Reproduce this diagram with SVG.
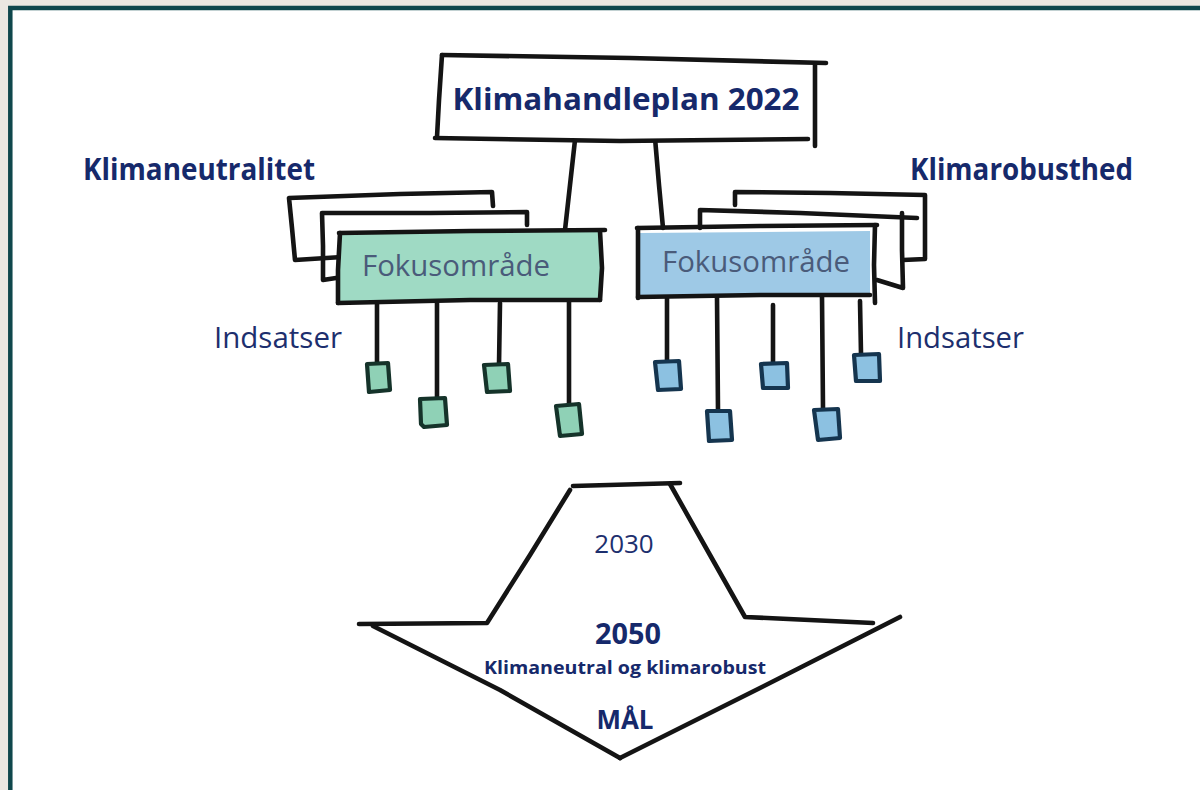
<svg xmlns="http://www.w3.org/2000/svg" width="1200" height="790" viewBox="0 0 1200 790">
<defs>
<style>
.ink{fill:none;stroke:#141414;stroke-width:4.6;stroke-linecap:round;stroke-linejoin:round}
.hd{font-family:"Open Sans","Liberation Sans",sans-serif;font-weight:700;fill:#16296b}
.rg{font-family:"Open Sans","Liberation Sans",sans-serif;font-weight:400;fill:#1d2f6e}
.fk{font-family:"Open Sans","Liberation Sans",sans-serif;font-weight:400;fill:#4a5b7a;font-size:29px}
.sqg{fill:#8fd1b6;stroke:#15332a;stroke-width:4.2;stroke-linejoin:round}
.sqb{fill:#8cc1e1;stroke:#15354f;stroke-width:4.2;stroke-linejoin:round}
</style>
</defs>
<rect x="0" y="0" width="1200" height="790" fill="#ebe7e1"/>
<rect x="10.3" y="8" width="1200" height="800" fill="#ffffff" stroke="#0f474c" stroke-width="4.5"/>

<g id="connectors">
<path class="ink" d="M575,140 L570,185 L565,230"/>
<path class="ink" d="M655,138 L659,185 L663,228"/>
<path class="ink" d="M377,303 L377,364"/>
<path class="ink" d="M437,303 L437,399"/>
<path class="ink" d="M500,303 L499,365"/>
<path class="ink" d="M569,301 L569,405"/>
<path class="ink" d="M667,297 L667,361"/>
<path class="ink" d="M717,297 L718,411"/>
<path class="ink" d="M773,305 L773,363"/>
<path class="ink" d="M822,297 L823,409"/>
<path class="ink" d="M860,301 L861,354"/>
</g>

<g id="title">
<path d="M442,57 L815,63 L813,144 L437,139 Z" fill="#ffffff"/>
<path class="ink" d="M442,55 L630,58 L826,63"/>
<path class="ink" d="M442,55 L439,100 L437,137"/>
<path class="ink" d="M435,138 L620,141 L808,139"/>
<path class="ink" d="M815,65 L815,146"/>
<text class="hd" x="626" y="110" font-size="31" text-anchor="middle" textLength="347" lengthAdjust="spacingAndGlyphs">Klimahandleplan 2022</text>
</g>

<g id="label-klimaneutralitet">
<text class="hd" x="83" y="180" font-size="30" textLength="232" lengthAdjust="spacingAndGlyphs">Klimaneutralitet</text>
</g>
<g id="label-klimarobusthed">
<text class="hd" x="910" y="180" font-size="30" textLength="223" lengthAdjust="spacingAndGlyphs">Klimarobusthed</text>
</g>

<g id="fokus-left">
<path class="ink" d="M342,257 L295,260 L292,228 L289,198 L400,194 L492,192 L493,206"/>
<path class="ink" d="M336,278 L323,280 L323,246 L322,213 L430,213 L527,212 L527,225"/>
<path d="M341,233 L601,231 L600,300 L339,302 Z" fill="#9fdac4"/>
<path class="ink" d="M339,233 L470,231 L605,230"/>
<path class="ink" d="M340,233 L338,270 L338,303"/>
<path class="ink" d="M338,303 L470,300 L600,300"/>
<path class="ink" d="M600,231 L602,268 L600,300"/>
<text class="fk" x="362" y="276" textLength="188" lengthAdjust="spacingAndGlyphs">Fokusområde</text>
</g>

<g id="fokus-right">
<path class="ink" d="M735,205 L735,192 L830,193 L925,195 L925,230 L925,259 L903,260"/>
<path class="ink" d="M700,228 L700,210 L800,213 L917,218"/>
<path class="ink" d="M902,213 L902,250 L903,288 L877,280"/>
<path d="M640,233 L870,231 L870,297 L640,297 Z" fill="#9ec9e6"/>
<path class="ink" d="M637,228 L760,226 L877,225"/>
<path class="ink" d="M638,228 L638,262 L638,298"/>
<path class="ink" d="M638,297 L760,295 L870,295"/>
<path class="ink" d="M875,225 L874,265 L875,303"/>
<text class="fk" x="662" y="272" textLength="188" lengthAdjust="spacingAndGlyphs">Fokusområde</text>
</g>

<g id="indsatser-left-label">
<text class="rg" x="214" y="348" font-size="29" textLength="128" lengthAdjust="spacingAndGlyphs">Indsatser</text>
</g>
<g id="indsatser-right-label">
<text class="rg" x="897" y="348" font-size="29" textLength="127" lengthAdjust="spacingAndGlyphs">Indsatser</text>
</g>

<g id="indsatser-left">
<path class="sqg" d="M367,364 L388,363 L390,390 L369,392 Z"/>
<path class="sqg" d="M420,399 L445,398 L447,425 L424,427 L421,424 Z"/>
<path class="sqg" d="M484,365 L508,364 L510,391 L487,392 Z"/>
<path class="sqg" d="M556,406 L579,404 L582,434 L560,436 Z"/>
</g>

<g id="indsatser-right">
<path class="sqb" d="M655,362 L679,361 L681,389 L658,390 Z"/>
<path class="sqb" d="M707,411 L730,411 L732,440 L709,441 Z"/>
<path class="sqb" d="M761,364 L787,363 L788,388 L763,388 Z"/>
<path class="sqb" d="M814,410 L838,409 L840,438 L818,440 Z"/>
<path class="sqb" d="M854,355 L879,354 L880,381 L856,381 Z"/>
</g>

<g id="goal-arrow">
<path class="ink" d="M573,486 L680,483"/>
<path class="ink" d="M570,490 L530,555 L487,623 L359,624"/>
<path class="ink" d="M373,626 L500,690 L620,758"/>
<path class="ink" d="M620,758 L760,688 L900,617"/>
<path class="ink" d="M670,484 L710,555 L745,617 L873,623"/>
<text class="rg" x="624" y="553" font-size="26" text-anchor="middle" fill="#23367a">2030</text>
<text class="hd" x="628" y="644" font-size="29" text-anchor="middle" textLength="66" lengthAdjust="spacingAndGlyphs">2050</text>
<text class="hd" x="625" y="674" font-size="18.5" text-anchor="middle" textLength="282" lengthAdjust="spacingAndGlyphs">Klimaneutral og klimarobust</text>
<text class="hd" x="625" y="729" font-size="27" text-anchor="middle" textLength="57" lengthAdjust="spacingAndGlyphs">MÅL</text>
</g>
</svg>
